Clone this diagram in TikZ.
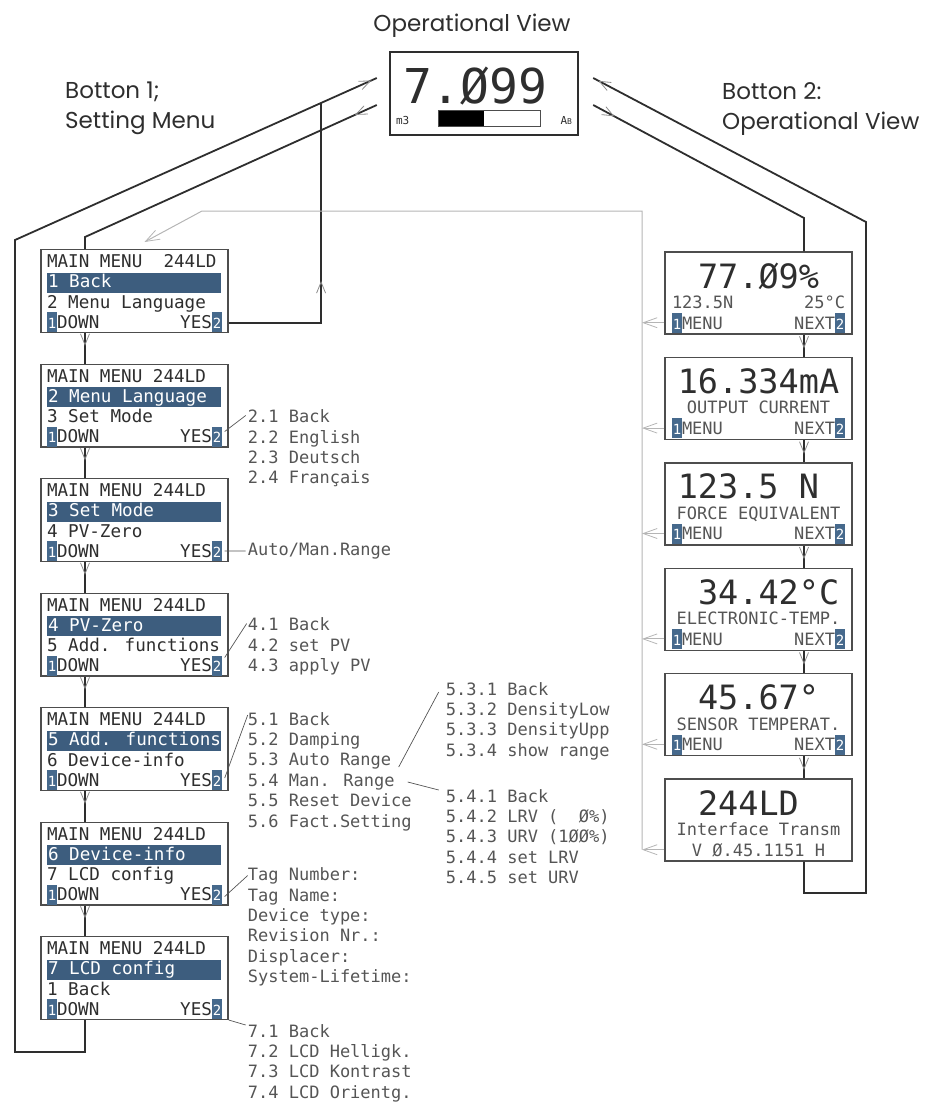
\documentclass[tikz,border=0pt]{standalone}
\usepackage{fontspec}
\usepackage{tikz}
\usetikzlibrary{arrows.meta,positioning,calc,decorations.markings}
\newfontfamily\lcdfont{DejaVu Sans Mono}
\newfontfamily\gothic{Poppins}
\definecolor{Ink}{HTML}{2E2E2E}
\definecolor{Frame}{HTML}{4D4D4D}
\definecolor{Soft}{HTML}{555555}
\definecolor{Sel}{HTML}{3D5D7E}
\definecolor{Btn}{HTML}{46698C}
\definecolor{Bus}{HTML}{B5B5B5}
\definecolor{TipGray}{HTML}{8C8C8C}
\tikzset{
  lcdtip/.tip={Straight Barb[length=11pt,width=9pt,line width=0.8pt,color=TipGray]},
  bustip/.tip={Straight Barb[length=14pt,width=10pt,line width=0.8pt,color=Bus]}
}
\newcommand{\gapfill}{\hskip 0pt plus 1fill\relax}
\newcommand{\centred}[1]{\makebox[\linewidth]{#1}}
\newcommand{\btn}[1]{{\setlength{\fboxsep}{0pt}\colorbox{Btn}{\rule[-4pt]{0pt}{20pt}\makebox[10pt]{\color{white}\fontsize{14}{14}\selectfont #1}}}}
\newcommand{\selbar}[1]{{\setlength{\fboxsep}{0pt}\colorbox{Sel}{\makebox[174pt][l]{\rule[-5pt]{0pt}{20pt}\color{white}\hspace{1pt}#1}}}}
\newcommand{\levelbar}{{\setlength{\fboxsep}{0pt}\setlength{\fboxrule}{0.7pt}\raisebox{-1pt}{\fcolorbox{Frame}{white}{\color{black}\rule{45pt}{15pt}\hspace{56pt}}}}}
% one line of the setting menu: header, selected line, next line
\newcommand{\menuscreen}[3]{%
  \begin{minipage}[t]{175pt}\lcdfont\fontsize{17.6}{20.2}\selectfont
  \lineskiplimit=-100pt\lineskip=0pt\color{Ink}%
  \rule{0pt}{18pt}#1\par
  \selbar{#2}\par
  #3\par
  \btn{1}DOWN\gapfill YES\btn{2}\rule[-4pt]{0pt}{0pt}\par
  \end{minipage}}
% operational screen: value, info line, key line
\newcommand{\opscreen}[3]{%
  \begin{minipage}[t]{173pt}\lcdfont\lineskiplimit=-100pt\lineskip=0pt
  \fontsize{33.5}{33.5}\selectfont\color{Ink}\rule{0pt}{35pt}\centred{#1}\par
  \fontsize{17}{20.5}\selectfont\color{Soft}#2\par
  #3\rule[-4pt]{0pt}{0pt}\par
  \end{minipage}}
\newcommand{\ovscreen}{%
  \begin{minipage}[t]{176pt}\lcdfont\lineskiplimit=-100pt\lineskip=0pt\color{Ink}%
  \fontsize{48}{48}\selectfont\rule{0pt}{51pt}\hspace*{7pt}7.Ø99\par
  \fontsize{11}{21}\selectfont m3\hspace{29pt}\levelbar\gapfill A{\fontsize{8}{8}\selectfont B}\rule[-10pt]{0pt}{0pt}\par
  \end{minipage}}

\begin{document}
\begin{tikzpicture}[x=1pt,y=-1pt,node distance=30.5pt,
  screen/.style={draw=Frame,line width=1.4pt,fill=white,inner sep=0pt,minimum width=187pt,minimum height=82pt},
  ovbox/.style={screen,draw=Ink,line width=2.4pt,minimum width=188pt,minimum height=83pt},
  caption/.style={font=\gothic\fontsize{23}{30}\selectfont,text=Ink,inner sep=0pt,align=left},
  sublist/.style={font=\lcdfont\fontsize{17}{20.4}\selectfont,text=Soft,inner sep=0pt,align=left,anchor=north west},
  wire/.style={draw=Ink,line width=1.8pt},
  pointer/.style={draw=Soft,line width=0.7pt},
  bus/.style={draw=Bus,line width=1pt},
  midtip/.style={postaction={decorate,decoration={markings,mark=at position #1 with {\arrow{lcdtip}}}}}]
\useasboundingbox (0,0) rectangle (950,1106);

% operational view and captions
\node[ovbox] (ov) at (484,93.5) {\ovscreen};
\node[caption,above=13pt of ov,xshift=-12pt] (ovtitle) {Operational View};
\node[caption,anchor=north west] (key1) at (65,82) {Botton 1;\\Setting Menu};
\node[caption,anchor=north west] (key2) at (722,82) {Botton 2:\\Operational View};

% setting menu
\node[screen] (m1) at (134.5,291) {\menuscreen{MAIN MENU~~244LD}{1 Back}{2 Menu Language}};
\node[screen,below=of m1] (m2) {\menuscreen{MAIN MENU 244LD}{2 Menu Language}{3 Set Mode}};
\node[screen,below=of m2] (m3) {\menuscreen{MAIN MENU 244LD}{3 Set Mode}{4 PV-Zero}};
\node[screen,below=of m3] (m4) {\menuscreen{MAIN MENU 244LD}{4 PV-Zero}{5 Add. functions}};
\node[screen,below=of m4] (m5) {\menuscreen{MAIN MENU 244LD}{5 Add. functions}{6 Device-info}};
\node[screen,below=of m5] (m6) {\menuscreen{MAIN MENU 244LD}{6 Device-info}{7 LCD config}};
\node[screen,below=of m6] (m7) {\menuscreen{MAIN MENU 244LD}{7 LCD config}{1 Back}};

% sub menus
\node[sublist] (L2) at ($(m2.north east)+(19,46)$) {2.1 Back\\2.2 English\\2.3 Deutsch\\2.4 Français};
\node[sublist,anchor=west] (L3) at ($(m3.north east)+(19,73)$) {Auto/Man.Range};
\node[sublist] (L4) at ($(m4.north east)+(19,25)$) {4.1 Back\\4.2 set PV\\4.3 apply PV};
\node[sublist] (L5) at ($(m5.north east)+(19,5)$) {5.1 Back\\5.2 Damping\\5.3 Auto Range\\5.4 Man. Range\\5.5 Reset Device\\5.6 Fact.Setting};
\node[sublist] (L53) at ($(L5.north west)+(198,-30)$) {5.3.1 Back\\5.3.2 DensityLow\\5.3.3 DensityUpp\\5.3.4 show range};
\node[sublist] (L54) at ($(L5.north west)+(198,77)$) {5.4.1 Back\\5.4.2 LRV (~~Ø\%)\\5.4.3 URV (1ØØ\%)\\5.4.4 set LRV\\5.4.5 set URV};
\node[sublist] (L6) at ($(m6.north east)+(19,46)$) {Tag Number:\\Tag Name:\\Device type:\\Revision Nr.:\\Displacer:\\System-Lifetime:};
\node[sublist] (L7) at ($(m7.north east)+(19,88)$) {7.1 Back\\7.2 LCD Helligk.\\7.3 LCD Kontrast\\7.4 LCD Orientg.};

% operational screens
\node[screen] (ra) at (758.5,293) {\opscreen{\hphantom{0}77.Ø9\%\hphantom{0}}{123.5N\gapfill 25°C}{\btn{1}MENU\gapfill NEXT\btn{2}}};
\node[screen,below=22pt of ra] (rb) {\opscreen{16.334mA}{\centred{OUTPUT CURRENT}}{\btn{1}MENU\gapfill NEXT\btn{2}}};
\node[screen,below=22pt of rb] (rc) {\opscreen{123.5 N\hphantom{0}}{\centred{FORCE EQUIVALENT}}{\btn{1}MENU\gapfill NEXT\btn{2}}};
\node[screen,below=22pt of rc] (rd) {\opscreen{\hphantom{0}34.42°C}{\centred{ELECTRONIC-TEMP.}}{\btn{1}MENU\gapfill NEXT\btn{2}}};
\node[screen,below=22pt of rd] (re) {\opscreen{\hphantom{0}45.67°\hphantom{0}}{\centred{SENSOR TEMPERAT.}}{\btn{1}MENU\gapfill NEXT\btn{2}}};
\node[screen,below=22pt of re] (rf) {\opscreen{\hphantom{0}244LD\hphantom{00}}{\centred{Interface Transm}}{\centred{V Ø.45.1151 H}}};

% routing points
\coordinate (spineL) at (85,0);
\coordinate (spineR) at (804,0);
\coordinate (ovL1) at ($(ov.west)+(-12,-15.5)$);
\coordinate (ovL2) at ($(ov.west)+(-12,11.5)$);
\coordinate (ovR1) at ($(ov.east)+(14,-15.5)$);
\coordinate (ovR2) at ($(ov.east)+(14,11.5)$);
\coordinate (cLT) at (15,240);
\coordinate (cLB) at (15,1052);
\coordinate (cL2) at (85,237);
\coordinate (cR2) at (804,218);
\coordinate (cRT) at (866,222);
\coordinate (cRB) at (866,893);
\coordinate (join) at ($(ovL1)!0.154!(cLT)$);
\coordinate (yes1) at ($(m1.south east)+(0,-10)$);
\coordinate (busT) at (642,211);
\coordinate (busB) at (202,211);
\coordinate (busEnd) at ($(m1.north)+(10,-7)$);

% button 1 and button 2 loops
\draw[wire,midtip=-6pt] (m7.south -| spineL) |- (cLB) -- (cLT) -- (ovL1);
\draw[wire,midtip=24pt] (ovL2) -- (cL2) -- (m1.north -| spineL);
\draw[wire,midtip=0.43] (yes1) -| (join);
\draw[wire,midtip=24pt] (ovR2) -- (cR2) -- (ra.north -| spineR);
\draw[wire,midtip=-6pt] (rf.south -| spineR) |- (cRB) -- (cRT) -- (ovR1);

\foreach \a/\b in {m1/m2,m2/m3,m3/m4,m4/m5,m5/m6,m6/m7}
  \draw[wire,midtip=0.42] (\a.south -| spineL) -- (\b.north -| spineL);
\foreach \a/\b in {ra/rb,rb/rc,rc/rd,rd/re,re/rf}
  \draw[wire,midtip=0.62] (\a.south -| spineR) -- (\b.north -| spineR);

% menu key back to the setting menu
\foreach \r in {ra,rb,rc,rd,re,rf}{
  \coordinate (k\r) at ($(\r.south west)+(0,-12)$);
  \draw[bus,-bustip] (k\r) -- (k\r -| busT);
}
\draw[bus,-bustip] (krf -| busT) -- (busT) -- (busB) -- (busEnd);

% sub menu pointers
\draw[pointer] ($(m2.south east)+(-4,-16)$) -- ($(L2.north west)+(-2,6)$);
\draw[pointer] ($(m3.south east)+(-4,-11)$) -- ($(L3.west)+(-2,0)$);
\draw[pointer] ($(m4.south east)+(-4,-19)$) -- ($(L4.north west)+(-1,6)$);
\draw[pointer] ($(m5.south east)+(-4,-13)$) -- ($(L5.north west)+(0,3)$);
\draw[pointer] ($(m6.south east)+(-4,-9)$) -- ($(L6.north west)+(0,8)$);
\draw[pointer] (m7.south east) -- ($(L7.north west)+(-2,1)$);
\draw[pointer] ($(L5.north west)+(151,55)$) -- ($(L53.north west)+(-7,10)$);
\draw[pointer] ($(L5.north west)+(160,70)$) -- ($(L54.north west)+(-7,1)$);
\end{tikzpicture}
\end{document}
